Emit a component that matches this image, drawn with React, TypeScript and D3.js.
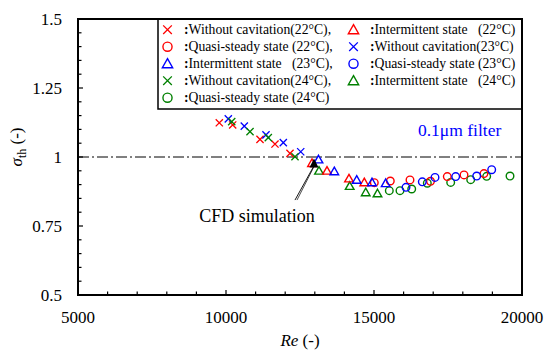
import React from "react";
import * as d3 from "d3";

const xTicks = [5000, 10000, 15000, 20000];
const yTicks = [0.5, 0.75, 1, 1.25, 1.5];
const yTickLabels = ["0.5", "0.75", "1", "1.25", "1.5"];

const woCav22: [number, number][] = [[9774, 1.124], [10226, 1.116], [11149, 1.064], [11655, 1.047], [12162, 1.013]];
const woCav23: [number, number][] = [[10078, 1.138], [10618, 1.112], [11351, 1.080], [11936, 1.052], [12524, 1.019]];
const woCav24: [number, number][] = [[10193, 1.128], [10811, 1.092], [11429, 1.070], [12331, 1.001]];
const inter22: [number, number][] = [[12905, 0.978], [13412, 0.950], [14155, 0.922], [14672, 0.908]];
const inter23: [number, number][] = [[13125, 0.991], [13659, 0.948], [14416, 0.917], [14932, 0.908], [15395, 0.905]];
const inter24: [number, number][] = [[13142, 0.950], [14179, 0.895], [14720, 0.872], [15118, 0.868]];
const quasi22: [number, number][] = [[15010, 0.907], [15551, 0.913], [16216, 0.917], [16909, 0.912], [17476, 0.929], [18041, 0.935], [18716, 0.940]];
const quasi23: [number, number][] = [[16081, 0.890], [16632, 0.910], [17061, 0.926], [17760, 0.929], [18470, 0.931], [18976, 0.954]];
const quasi24: [number, number][] = [[15517, 0.878], [15878, 0.878], [16274, 0.884], [16801, 0.905], [17591, 0.908], [18267, 0.918], [18807, 0.930], [19595, 0.931]];
const cfd: [number, number][] = [[12973, 0.976]];

const RED = "#ff0000";
const BLUE = "#0000ff";
const GREEN = "#008000";

type Shape = "x" | "o" | "t";
const series: { data: [number, number][]; shape: Shape; color: string }[] = [
  { data: woCav22, shape: "x", color: RED },
  { data: woCav23, shape: "x", color: BLUE },
  { data: woCav24, shape: "x", color: GREEN },
  { data: quasi24, shape: "o", color: GREEN },
  { data: quasi22, shape: "o", color: RED },
  { data: quasi23, shape: "o", color: BLUE },
  { data: inter24, shape: "t", color: GREEN },
  { data: inter22, shape: "t", color: RED },
  { data: inter23, shape: "t", color: BLUE },
];

const legendCol1: { shape: Shape; color: string; label: string }[] = [
  { shape: "x", color: RED, label: "Without cavitation(22°C)," },
  { shape: "o", color: RED, label: "Quasi-steady state (22°C)," },
  { shape: "t", color: BLUE, label: "Intermittent state   (23°C)," },
  { shape: "x", color: GREEN, label: "Without cavitation(24°C)," },
  { shape: "o", color: GREEN, label: "Quasi-steady state (24°C)" },
];
const legendCol2: { shape: Shape; color: string; label: string }[] = [
  { shape: "t", color: RED, label: "Intermittent state   (22°C)" },
  { shape: "x", color: BLUE, label: "Without cavitation(23°C)" },
  { shape: "o", color: BLUE, label: "Quasi-steady state (23°C)" },
  { shape: "t", color: GREEN, label: "Intermittent state   (24°C)" },
];

const FONT = '"Liberation Serif", "DejaVu Serif", serif';

function Marker({ shape, color, x, y, s = 1 }: { shape: Shape; color: string; x: number; y: number; s?: number }) {
  if (shape === "x") {
    const d = 3.6 * s;
    return (
      <path d={`M${x - d},${y - d}L${x + d},${y + d}M${x - d},${y + d}L${x + d},${y - d}`} stroke={color} strokeWidth={1.3} fill="none" />
    );
  }
  if (shape === "o") {
    return <circle cx={x} cy={y} r={3.8 * s} stroke={color} strokeWidth={1.4} fill="none" />;
  }
  const h = 4.2 * s;
  const w = 4.3 * s;
  return (
    <path d={`M${x},${y - h}L${x + w},${y + h * 0.8}L${x - w},${y + h * 0.8}Z`} stroke={color} strokeWidth={1.4} fill="none" />
  );
}

export default function App() {
  const W = 545, H = 350;
  const m = { left: 78, right: 522, top: 19, bottom: 295 };
  const x = d3.scaleLinear().domain([5000, 20000]).range([m.left, m.right]);
  const y = d3.scaleLinear().domain([0.5, 1.5]).range([m.bottom, m.top]);

  const xMinor = d3.range(5000, 20001, 1000);
  const yMinor = d3.range(0, 21).map((i) => 0.5 + i * 0.05);

  const cfdPt = cfd[0];
  const cx = x(cfdPt[0]);
  const cy = y(cfdPt[1]);
  const tailX = x(12331);
  const tailY = y(0.844);

  const legX = 158, legY = 19, legW = m.right - 158, legH = 90;
  const rowY = (i: number) => 29.7 + i * 17;

  return (
    <svg width={W} height={H} style={{ position: "absolute", left: 0, top: 0, fontFamily: FONT }}>
      <rect width={W} height={H} fill="#fff" />
      <line x1={m.left} x2={m.right} y1={y(1)} y2={y(1)} stroke="#000" strokeWidth={1} strokeDasharray="11,3,2,3" />

      {xMinor.map((v) => (
        <line key={"xt" + v} x1={x(v)} x2={x(v)} y1={m.bottom} y2={m.bottom - (v % 5000 === 0 ? 5 : 3.5)} stroke="#000" strokeWidth={1.2} />
      ))}
      {yMinor.map((v, i) => (
        <line key={"yt" + i} x1={m.left} x2={m.left + (i % 5 === 0 ? 5 : 3.5)} y1={y(v)} y2={y(v)} stroke="#000" strokeWidth={1.2} />
      ))}

      {xTicks.map((v) => (
        <text key={"xl" + v} x={x(v)} y={323} textAnchor="middle" fontSize={17} style={{ fontFamily: FONT }}>{v}</text>
      ))}
      {yTicks.map((v, i) => (
        <text key={"yl" + v} x={62} y={y(v) + 6} textAnchor="end" fontSize={17} style={{ fontFamily: FONT }}>{yTickLabels[i]}</text>
      ))}

      <text x={(m.left + m.right) / 2} y={346} textAnchor="middle" fontSize={17} style={{ fontFamily: FONT }}>
        <tspan fontStyle="italic">Re</tspan> (-)
      </text>
      <text transform={`translate(22,147) rotate(-90)`} textAnchor="middle" fontSize={17} style={{ fontFamily: FONT }}>
        <tspan fontStyle="italic">σ</tspan>
        <tspan fontSize={12} dy={4}>th</tspan>
        <tspan dy={-4}> (-)</tspan>
      </text>

      {series.map((s, si) =>
        s.data.map((d, i) => <Marker key={si + "-" + i} shape={s.shape} color={s.color} x={x(d[0])} y={y(d[1])} />)
      )}

      <path d={`M${cx},${cy - 5}L${cx + 4.5},${cy + 4}L${cx - 4.5},${cy + 4}Z`} fill="#000" />
      <line x1={tailX} y1={tailY} x2={cx - 0.5} y2={cy + 3} stroke="#000" strokeWidth={0.9} />
      <line x1={tailX + 2} y1={tailY} x2={cx} y2={cy + 3} stroke="#000" strokeWidth={0.7} />
      <text x={x(11047)} y={y(0.766)} textAnchor="middle" fontSize={18} style={{ fontFamily: FONT }}>CFD simulation</text>

      <text x={x(16486)} y={y(1.076)} fontSize={17.5} fill={BLUE} style={{ fontFamily: FONT }}>0.1μm filter</text>

      <rect x={legX} y={legY} width={legW} height={legH} fill="#fff" stroke="#000" strokeWidth={1.5} />
      {legendCol1.map((e, i) => (
        <g key={"l1" + i}>
          <Marker shape={e.shape} color={e.color} x={167.5} y={rowY(i)} s={1.2} />
          <text x={184} y={rowY(i) + 4.5} fontSize={13.7} style={{ whiteSpace: "pre", fontFamily: FONT }}>
            <tspan fontWeight="bold">:</tspan>{e.label}
          </text>
        </g>
      ))}
      {legendCol2.map((e, i) => (
        <g key={"l2" + i}>
          <Marker shape={e.shape} color={e.color} x={353.5} y={rowY(i)} s={1.2} />
          <text x={370} y={rowY(i) + 4.5} fontSize={13.7} style={{ whiteSpace: "pre", fontFamily: FONT }}>
            <tspan fontWeight="bold">:</tspan>{e.label}
          </text>
        </g>
      ))}

      <rect x={m.left} y={m.top} width={m.right - m.left} height={m.bottom - m.top} fill="none" stroke="#000" strokeWidth={2} />
    </svg>
  );
}
